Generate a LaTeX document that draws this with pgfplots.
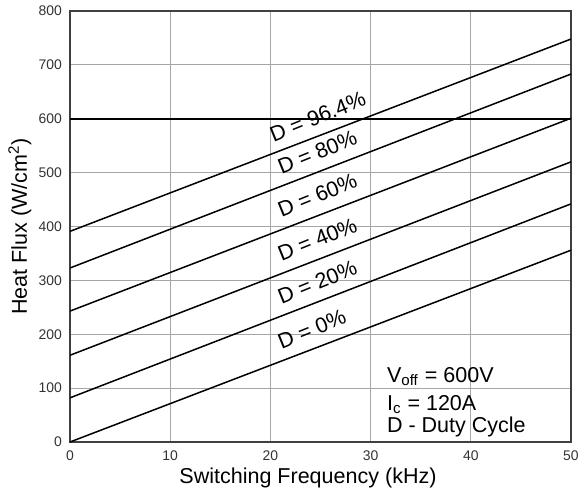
\documentclass[border=0pt]{standalone}
\usepackage{pgfplots}
\pgfplotsset{compat=1.18}
\usepackage{fontspec}
\setmainfont{Liberation Sans}
\begin{document}
\begin{tikzpicture}
\path[use as bounding box] (-35bp,-25.5bp) rectangle (256.5bp,221bp);
\begin{axis}[
  at={(0,0)}, anchor=south west,
  scale only axis, width=250.5bp, height=215.5bp,
  xmin=0, xmax=50, ymin=0, ymax=800,
  xtick={0,10,...,50}, ytick={0,100,...,800},
  grid=major,
  major grid style={gray!70, line width=0.5bp},
  axis line style={black!75, line width=1bp},
  major tick length=0pt,
  /pgf/number format/assume math mode=true,
  tick label style={font=\fontsize{7}{8}\selectfont, text=black!80},
  xticklabel style={yshift=-1bp},
  yticklabel style={xshift=-0.5bp},
  xlabel={Switching Frequency (kHz)},
  ylabel={Heat Flux (W/cm\textsuperscript{2})},
  label style={font=\fontsize{10.8}{12}\selectfont},
  xlabel style={at={(axis description cs:0.475,-0.083)}, anchor=center},
  ylabel style={at={(axis description cs:-0.1,0.5)}, anchor=center},
  clip=false,
]
\addplot[black, line width=1bp, forget plot] coordinates {(0,600) (50,600)};
\addplot[black, line width=0.75bp] coordinates {(0,0) (50,356)};
\addplot[black, line width=0.75bp] coordinates {(0,82) (50,442)};
\addplot[black, line width=0.75bp] coordinates {(0,161) (50,520)};
\addplot[black, line width=0.75bp] coordinates {(0,243) (50,601)};
\addplot[black, line width=0.75bp] coordinates {(0,323) (50,683)};
\addplot[black, line width=0.75bp] coordinates {(0,391) (50,748)};
\begin{scope}[every node/.style={font=\fontsize{10.8}{12}\selectfont, rotate=22, anchor=south west, inner sep=1pt}]
\node at (axis cs:20.2,550) {D = 96.4\%};
\node at (axis cs:21,490) {D = 80\%};
\node at (axis cs:21,410) {D = 60\%};
\node at (axis cs:21,328) {D = 40\%};
\node at (axis cs:21,249) {D = 20\%};
\node at (axis cs:21,166) {D = 0\%};
\end{scope}
\begin{scope}[every node/.style={font=\fontsize{10.8}{12}\selectfont, anchor=base west, inner sep=0pt}]
\node at (axis cs:31.6,111) {V\textsubscript{off} = 600V};
\node at (axis cs:31.6,59) {I\textsubscript{c} = 120A};
\node at (axis cs:31.6,17) {D - Duty Cycle};
\end{scope}
\end{axis}
\end{tikzpicture}
\end{document}
